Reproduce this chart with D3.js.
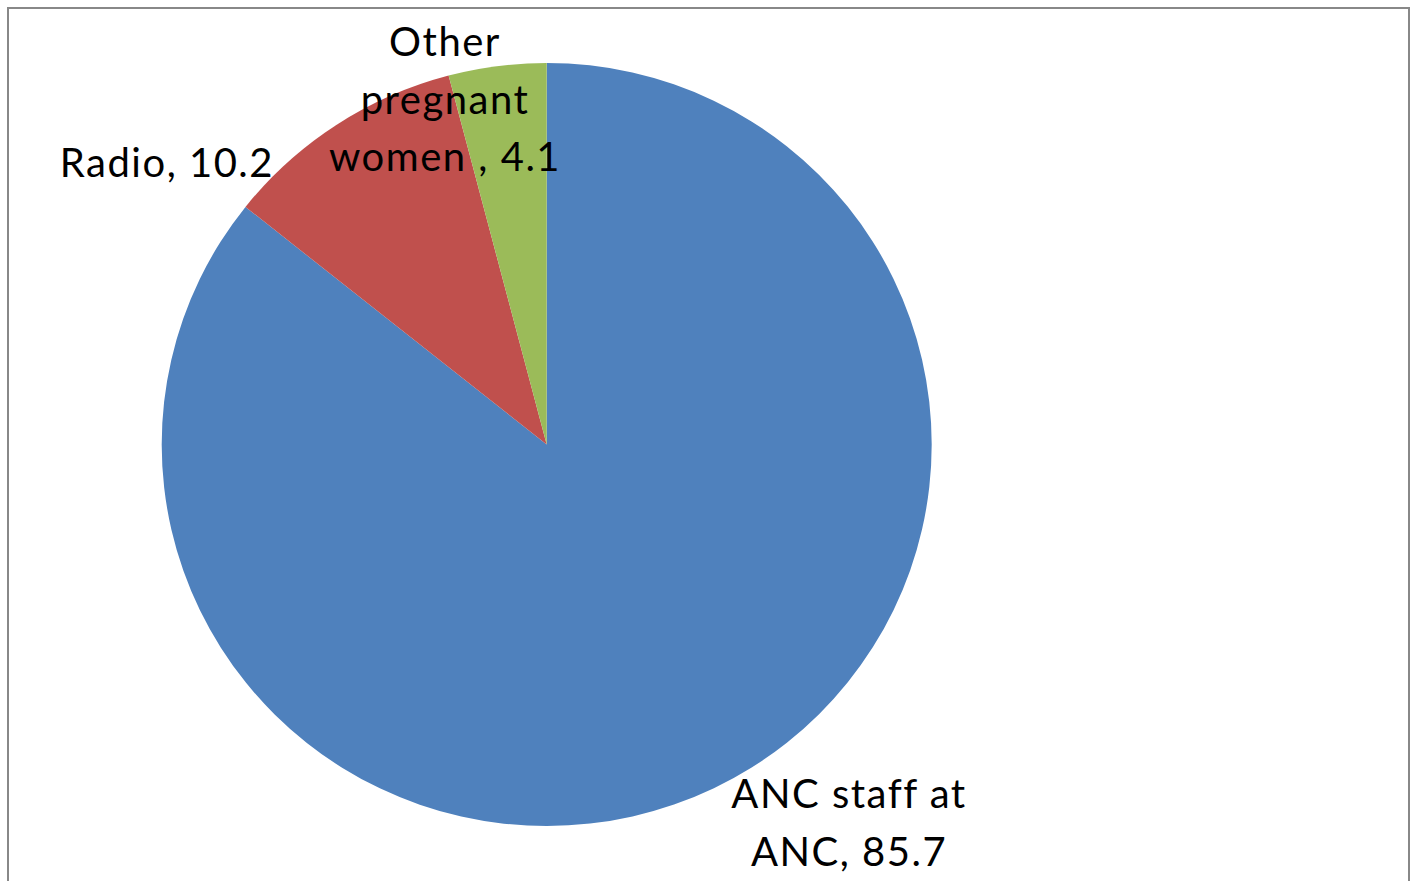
<!DOCTYPE html>
<html><head><meta charset="utf-8">
<script src="https://cdn.jsdelivr.net/npm/d3@7"></script>
<style>html,body{margin:0;padding:0;background:#fff;overflow:hidden}</style>
</head><body>
<svg id="chart" width="1411" height="881"></svg>
<script>
const categories = ["ANC staff at ANC", "Radio", "Other pregnant women "];
const values = [85.7, 10.2, 4.1];
const colors = ["#4F81BD", "#C0504D", "#9BBB59"];
const labelLines = [["ANC staff at", "ANC, 85.7"], ["Radio, 10.2"], ["Other", "pregnant", "women , 4.1"]];

const svg = d3.select("#chart");
svg.append("rect").attr("x", 8).attr("y", 8).attr("width", 1401).attr("height", 900)
  .attr("fill", "#fff").attr("stroke", "#888").attr("stroke-width", 2);

const cx = 546.7, cy = 444.5, R = 385;
const pie = d3.pie().sort(null).value(d => d)(values);
const arc = d3.arc().innerRadius(0).outerRadius(R);
const g = svg.append("g").attr("transform", `translate(${cx},${cy}) scale(1,0.991)`);
g.selectAll("path").data(pie).join("path")
  .attr("d", arc).attr("fill", (d, i) => colors[i]);

// label placement (x, first baseline y, anchor)
const labelPos = [
  {x: 849, y: 808, anchor: "middle"},
  {x: 274, y: 177, anchor: "end"},
  {x: 445, y: 56, anchor: "middle"}
];
const lineH = 57.5;
const fontFamily = "Lato, 'Open Sans', sans-serif";
labelLines.forEach((lines, i) => {
  const t = svg.append("text").attr("font-family", fontFamily).attr("font-size", 40)
    .attr("letter-spacing", 1.5)
    .attr("fill", "#000").attr("text-anchor", labelPos[i].anchor);
  lines.forEach((l, j) => {
    t.append("tspan").attr("x", labelPos[i].x).attr("y", labelPos[i].y + j * lineH).text(l);
  });
});
</script>
</body></html>
